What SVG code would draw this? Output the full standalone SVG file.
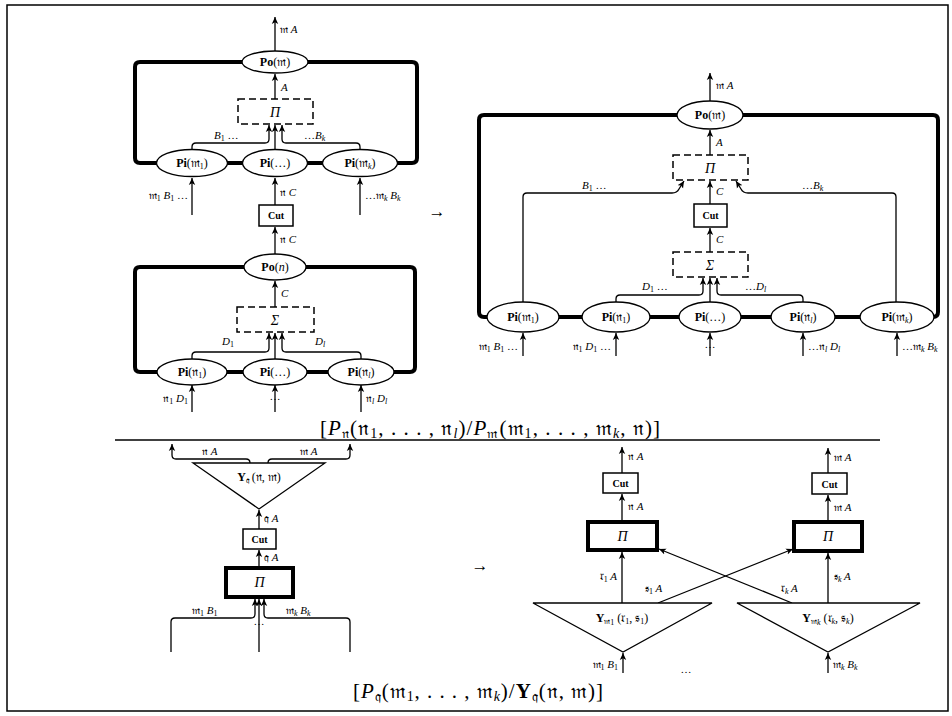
<svg xmlns="http://www.w3.org/2000/svg" width="952" height="716" viewBox="0 0 952 716">
<style>
text{font-family:"Liberation Serif","DejaVu Serif",serif;font-size:11px;fill:#000}
.c{text-anchor:middle}
.e{text-anchor:end}
.i{font-style:italic}
.b{font-weight:bold}
.s{font-size:8px}
.nl{font-size:12px}
.yl{font-size:12px}
.sym{font-size:14px}
.arw{font-size:17px}
.cut{font-size:10px;font-weight:bold}
.big{font-size:21px}
.bs{font-size:14px}
.ln{fill:none;stroke:#000;stroke-width:1.3}
.ar{fill:none;stroke:#000;stroke-width:1.3;marker-end:url(#ah)}
.thick{fill:none;stroke:#000;stroke-width:4;stroke-linejoin:round}
.dash{fill:none;stroke:#000;stroke-width:1.5;stroke-dasharray:7 4}
.nd{fill:#fff;stroke:#000;stroke-width:1.3}
.box{fill:#fff;stroke:#000;stroke-width:1.5}
.tbox{fill:#fff;stroke:#000;stroke-width:4}
</style>
<defs>
<marker id="ah" markerWidth="8" markerHeight="8" refX="7" refY="4" orient="auto" markerUnits="userSpaceOnUse">
<path d="M0,0.8 L7,4 L0,7.2 L1.8,4 z" fill="#000"/>
</marker>
</defs>
<rect x="7" y="5" width="941" height="706" fill="none" stroke="#000" stroke-width="1.5"/>

<g id="frames">
<path class="thick" d="M243,62 H140 Q135,62 135,67 V158 Q135,163 140,163 H412 Q417,163 417,158 V67 Q417,62 412,62 H307"/>
<path class="thick" d="M244,267 H140 Q135,267 135,272 V367 Q135,372 140,372 H410 Q415,372 415,367 V272 Q415,267 410,267 H306"/>
<path class="thick" d="M677,115 H484 Q479,115 479,120 V312 Q479,317 484,317 H933 Q938,317 938,312 V120 Q938,115 933,115 H743"/>
</g>

<g id="connectors">
<path class="ar" d="M275,51 V17"/>
<path class="ar" d="M275,99 V74"/>
<path class="ar" d="M192,150 V147 Q192,143 196,143 H265 Q269,143 269,139 V125"/>
<path class="ar" d="M275,150 V125"/>
<path class="ar" d="M360,150 V147 Q360,143 356,143 H286 Q282,143 282,139 V125"/>
<path class="ar" d="M192,215 V178"/>
<path class="ar" d="M275,205 V178"/>
<path class="ar" d="M360,215 V178"/>
<path class="ar" d="M275,254 V227"/>
<path class="ar" d="M275,307 V281"/>
<path class="ar" d="M192,359 V356 Q192,352 196,352 H265 Q269,352 269,348 V333"/>
<path class="ar" d="M275,359 V333"/>
<path class="ar" d="M361,359 V356 Q361,352 357,352 H286 Q282,352 282,348 V333"/>
<path class="ar" d="M192,412 V385"/>
<path class="ar" d="M275,412 V385"/>
<path class="ar" d="M361,412 V385"/>
<path class="ar" d="M710,101 V73"/>
<path class="ar" d="M710,155 V130"/>
<path class="ar" d="M710,204 V181"/>
<path class="ar" d="M710,252 V228"/>
<path class="ar" d="M710,302 V278"/>
<path class="ar" d="M616,302 V299 Q616,295 620,295 H699 Q703,295 703,291 V278"/>
<path class="ar" d="M803,302 V299 Q803,295 799,295 H721 Q717,295 717,291 V278"/>
<path class="ar" d="M523,302 V197 Q523,193 527,193 H672 Q677,193 679,189 L684,181"/>
<path class="ar" d="M896,302 V197 Q896,193 892,193 H748 Q743,193 741,189 L736,181"/>
<path class="ar" d="M523,356 V333"/>
<path class="ar" d="M616,356 V333"/>
<path class="ar" d="M710,356 V333"/>
<path class="ar" d="M803,356 V333"/>
<path class="ar" d="M897,356 V333"/>
<path class="ar" d="M250,463 Q250,459 246,459 H176 Q172,459 172,455 V444"/>
<path class="ar" d="M268,463 Q268,459 272,459 H346 Q350,459 350,455 V444"/>
<path class="ar" d="M259,529 V510"/>
<path class="ar" d="M259,568 V550"/>
<path class="ar" d="M171,652 V622 Q171,618 175,618 H251 Q255,618 255,614 V599"/>
<path class="ar" d="M259,652 V599"/>
<path class="ar" d="M350,652 V622 Q350,618 346,618 H268 Q264,618 264,614 V599"/>
<path class="ar" d="M622,473 V447"/>
<path class="ar" d="M622,522 V494"/>
<path class="ar" d="M622,603 V552"/>
<path class="ar" d="M623,673 V653"/>
<path class="ar" d="M658,603 L793,549"/>
<path class="ar" d="M792,603 L659,549"/>
<path class="ar" d="M828,473 V448"/>
<path class="ar" d="M828,522 V495"/>
<path class="ar" d="M828,603 V553"/>
<path class="ar" d="M828,673 V653"/>
<line class="ln" x1="115" y1="440" x2="880" y2="440" stroke-width="1.5"/>
</g>

<g id="po_m_L"><ellipse class="nd" cx="275" cy="62" rx="33" ry="11"/><text class="c nl" x="275" y="66"><tspan class="b">Po</tspan>(𝔪)</text></g>
<g id="pi_box_L"><rect class="dash" x="238" y="99" width="75" height="25"/><text class="c i sym" x="275" y="117">Π</text></g>
<g id="pi_m1_L"><ellipse class="nd" cx="192" cy="163" rx="35.5" ry="13.5"/><text class="c nl" x="192" y="167"><tspan class="b">Pi</tspan>(𝔪<tspan class="s" dy="2">1</tspan><tspan dy="-2">)</tspan></text></g>
<g id="pi_dots_L"><ellipse class="nd" cx="275" cy="163" rx="32.5" ry="13.5"/><text class="c nl" x="275" y="167"><tspan class="b">Pi</tspan>(…)</text></g>
<g id="pi_mk_L"><ellipse class="nd" cx="360" cy="163" rx="37.5" ry="13.5"/><text class="c nl" x="360" y="167"><tspan class="b">Pi</tspan>(𝔪<tspan class="s i" dy="2">k</tspan><tspan dy="-2">)</tspan></text></g>
<g id="cut_L"><rect class="box" x="259" y="205" width="34" height="21"/><text class="c cut" x="276" y="219">Cut</text></g>
<g id="po_n_L"><ellipse class="nd" cx="275" cy="267" rx="31" ry="13"/><text class="c nl" x="275" y="271"><tspan class="b">Po</tspan>(<tspan class="i">n</tspan>)</text></g>
<g id="sigma_L"><rect class="dash" x="237" y="307" width="77" height="25"/><text class="c i sym" x="275" y="325">Σ</text></g>
<g id="pi_n1_L"><ellipse class="nd" cx="192" cy="372" rx="35" ry="13"/><text class="c nl" x="192" y="376"><tspan class="b">Pi</tspan>(𝔫<tspan class="s" dy="2">1</tspan><tspan dy="-2">)</tspan></text></g>
<g id="pi_dots2_L"><ellipse class="nd" cx="275" cy="372" rx="32" ry="13"/><text class="c nl" x="275" y="376"><tspan class="b">Pi</tspan>(…)</text></g>
<g id="pi_nl_L"><ellipse class="nd" cx="361" cy="372" rx="33" ry="13"/><text class="c nl" x="361" y="376"><tspan class="b">Pi</tspan>(𝔫<tspan class="s i" dy="2">l</tspan><tspan dy="-2">)</tspan></text></g>

<g id="labels_L">
<text x="280" y="33">𝔪 <tspan class="i">A</tspan></text>
<text class="i" x="281" y="91">A</text>
<text x="214" y="139"><tspan class="i">B</tspan><tspan class="s" dy="2">1</tspan><tspan dy="-2"> …</tspan></text>
<text x="304" y="139">…<tspan class="i">B</tspan><tspan class="s i" dy="2">k</tspan></text>
<text class="e" x="188" y="199">𝔪<tspan class="s" dy="2">1</tspan><tspan class="i" dy="-2"> B</tspan><tspan class="s" dy="2">1</tspan><tspan dy="-2"> …</tspan></text>
<text x="280" y="196">𝔫 <tspan class="i">C</tspan></text>
<text x="365" y="199">…𝔪<tspan class="s i" dy="2">k</tspan><tspan class="i" dy="-2"> B</tspan><tspan class="s i" dy="2">k</tspan></text>
<text x="280" y="243">𝔫 <tspan class="i">C</tspan></text>
<text class="i" x="281" y="297">C</text>
<text x="222" y="345"><tspan class="i">D</tspan><tspan class="s" dy="2">1</tspan></text>
<text x="315" y="345"><tspan class="i">D</tspan><tspan class="s i" dy="2">l</tspan></text>
<text class="e" x="188" y="402">𝔫<tspan class="s" dy="2">1</tspan><tspan class="i" dy="-2"> D</tspan><tspan class="s" dy="2">1</tspan></text>
<text class="c" x="275" y="400">…</text>
<text x="366" y="402">𝔫<tspan class="s i" dy="2">l</tspan><tspan class="i" dy="-2"> D</tspan><tspan class="s i" dy="2">l</tspan></text>
<text class="c arw" x="437" y="217">→</text>
</g>

<g id="po_m_R"><ellipse class="nd" cx="710" cy="115" rx="33" ry="14"/><text class="c nl" x="710" y="119"><tspan class="b">Po</tspan>(𝔪)</text></g>
<g id="pi_box_R"><rect class="dash" x="673" y="155" width="75" height="25"/><text class="c i sym" x="710" y="173">Π</text></g>
<g id="cut_R"><rect class="box" x="694" y="204" width="33" height="23"/><text class="c cut" x="710.5" y="219">Cut</text></g>
<g id="sigma_R"><rect class="dash" x="673" y="252" width="75" height="25"/><text class="c i sym" x="710" y="270">Σ</text></g>
<g id="pi_m1_R"><ellipse class="nd" cx="523" cy="317" rx="36" ry="15"/><text class="c nl" x="523" y="321"><tspan class="b">Pi</tspan>(𝔪<tspan class="s" dy="2">1</tspan><tspan dy="-2">)</tspan></text></g>
<g id="pi_n1_R"><ellipse class="nd" cx="616" cy="317" rx="34" ry="15"/><text class="c nl" x="616" y="321"><tspan class="b">Pi</tspan>(𝔫<tspan class="s" dy="2">1</tspan><tspan dy="-2">)</tspan></text></g>
<g id="pi_dots_R"><ellipse class="nd" cx="710" cy="317" rx="31" ry="15"/><text class="c nl" x="710" y="321"><tspan class="b">Pi</tspan>(…)</text></g>
<g id="pi_nl_R"><ellipse class="nd" cx="803" cy="317" rx="32" ry="15"/><text class="c nl" x="803" y="321"><tspan class="b">Pi</tspan>(𝔫<tspan class="s i" dy="2">l</tspan><tspan dy="-2">)</tspan></text></g>
<g id="pi_mk_R"><ellipse class="nd" cx="897" cy="317" rx="37" ry="15"/><text class="c nl" x="897" y="321"><tspan class="b">Pi</tspan>(𝔪<tspan class="s i" dy="2">k</tspan><tspan dy="-2">)</tspan></text></g>

<g id="labels_R">
<text x="716" y="89">𝔪 <tspan class="i">A</tspan></text>
<text class="i" x="716" y="146">A</text>
<text class="i" x="716" y="195">C</text>
<text class="i" x="716" y="243">C</text>
<text x="582" y="189"><tspan class="i">B</tspan><tspan class="s" dy="2">1</tspan><tspan dy="-2"> …</tspan></text>
<text x="802" y="189">…<tspan class="i">B</tspan><tspan class="s i" dy="2">k</tspan></text>
<text x="642" y="290"><tspan class="i">D</tspan><tspan class="s" dy="2">1</tspan><tspan dy="-2"> …</tspan></text>
<text x="745" y="290">…<tspan class="i">D</tspan><tspan class="s i" dy="2">l</tspan></text>
<text class="e" x="518" y="350">𝔪<tspan class="s" dy="2">1</tspan><tspan class="i" dy="-2"> B</tspan><tspan class="s" dy="2">1</tspan><tspan dy="-2"> …</tspan></text>
<text class="e" x="611" y="350">𝔫<tspan class="s" dy="2">1</tspan><tspan class="i" dy="-2"> D</tspan><tspan class="s" dy="2">1</tspan><tspan dy="-2"> …</tspan></text>
<text class="c" x="710" y="348">…</text>
<text x="808" y="350">…𝔫<tspan class="s i" dy="2">l</tspan><tspan class="i" dy="-2"> D</tspan><tspan class="s i" dy="2">l</tspan></text>
<text x="902" y="350">…𝔪<tspan class="s i" dy="2">k</tspan><tspan class="i" dy="-2"> B</tspan><tspan class="s i" dy="2">k</tspan></text>
</g>

<text class="c big" x="490" y="435" textLength="340" lengthAdjust="spacing">[<tspan class="i">P</tspan><tspan class="bs" dy="3">𝔫</tspan><tspan dy="-3">(𝔫</tspan><tspan class="bs" dy="3">1</tspan><tspan dy="-3">, . . . , 𝔫</tspan><tspan class="bs i" dy="3">l</tspan><tspan dy="-3">)/</tspan><tspan class="i">P</tspan><tspan class="bs" dy="3">𝔪</tspan><tspan dy="-3">(𝔪</tspan><tspan class="bs" dy="3">1</tspan><tspan dy="-3">, . . . , 𝔪</tspan><tspan class="bs i" dy="3">k</tspan><tspan dy="-3">, 𝔫)]</tspan></text>

<g id="y_q"><path class="nd" d="M193,463 H325 L259,509 Z"/><text class="c yl" x="259" y="481"><tspan class="b">Y</tspan><tspan class="s" dy="2">𝔮</tspan><tspan dy="-2"> (𝔫, 𝔪)</tspan></text></g>
<g id="cut_BL"><rect class="box" x="243" y="529" width="33" height="20"/><text class="c cut" x="259.5" y="543">Cut</text></g>
<g id="pi_BL"><rect class="tbox" x="226" y="568" width="67" height="29"/><text class="c i sym" x="259.5" y="587">Π</text></g>
<g id="labels_BL">
<text x="202" y="455">𝔫 <tspan class="i">A</tspan></text>
<text x="300" y="455">𝔪 <tspan class="i">A</tspan></text>
<text x="264" y="522">𝔮 <tspan class="i">A</tspan></text>
<text x="264" y="561">𝔮 <tspan class="i">A</tspan></text>
<text x="192" y="614">𝔪<tspan class="s" dy="2">1</tspan><tspan class="i" dy="-2"> B</tspan><tspan class="s" dy="2">1</tspan></text>
<text x="286" y="614">𝔪<tspan class="s i" dy="2">k</tspan><tspan class="i" dy="-2"> B</tspan><tspan class="s i" dy="2">k</tspan></text>
<text class="c" x="259" y="625">…</text>
<text class="c arw" x="480" y="571">→</text>
</g>

<g id="cut_BR1"><rect class="box" x="603" y="473" width="35" height="20"/><text class="c cut" x="620.5" y="487">Cut</text></g>
<g id="pi_BR1"><rect class="tbox" x="588" y="522" width="69" height="28"/><text class="c i sym" x="622.5" y="541">Π</text></g>
<g id="y_m1"><path class="nd" d="M533,603 H712 L623,652 Z"/><text class="c yl" x="622" y="622"><tspan class="b">Y</tspan><tspan class="s" dy="2">𝔪</tspan><tspan class="s" dy="1">1</tspan><tspan dy="-3"> (𝔯</tspan><tspan class="s" dy="2">1</tspan><tspan dy="-2">, 𝔰</tspan><tspan class="s" dy="2">1</tspan><tspan dy="-2">)</tspan></text></g>
<g id="cut_BR2"><rect class="box" x="812" y="473" width="35" height="21"/><text class="c cut" x="829.5" y="488">Cut</text></g>
<g id="pi_BR2"><rect class="tbox" x="794" y="522" width="68" height="29"/><text class="c i sym" x="828" y="541">Π</text></g>
<g id="y_mk"><path class="nd" d="M737,603 H920 L828,652 Z"/><text class="c yl" x="828" y="622"><tspan class="b">Y</tspan><tspan class="s" dy="2">𝔪</tspan><tspan class="s i" dy="1">k</tspan><tspan dy="-3"> (𝔯</tspan><tspan class="s i" dy="2">k</tspan><tspan dy="-2">, 𝔰</tspan><tspan class="s i" dy="2">k</tspan><tspan dy="-2">)</tspan></text></g>
<g id="labels_BR">
<text x="628" y="460">𝔫 <tspan class="i">A</tspan></text>
<text x="628" y="510">𝔫 <tspan class="i">A</tspan></text>
<text class="e" x="617" y="580">𝔯<tspan class="s" dy="2">1</tspan><tspan class="i" dy="-2"> A</tspan></text>
<text x="645" y="592">𝔰<tspan class="s" dy="2">1</tspan><tspan class="i" dy="-2"> A</tspan></text>
<text class="e" x="618" y="668">𝔪<tspan class="s" dy="2">1</tspan><tspan class="i" dy="-2"> B</tspan><tspan class="s" dy="2">1</tspan></text>
<text x="834" y="461">𝔪 <tspan class="i">A</tspan></text>
<text x="834" y="511">𝔪 <tspan class="i">A</tspan></text>
<text x="834" y="580">𝔰<tspan class="s i" dy="2">k</tspan><tspan class="i" dy="-2"> A</tspan></text>
<text x="781" y="592">𝔯<tspan class="s i" dy="2">k</tspan><tspan class="i" dy="-2"> A</tspan></text>
<text x="833" y="668">𝔪<tspan class="s i" dy="2">k</tspan><tspan class="i" dy="-2"> B</tspan><tspan class="s i" dy="2">k</tspan></text>
<text class="c" x="686" y="673">…</text>
</g>

<text class="c big" x="478" y="698" textLength="250" lengthAdjust="spacing">[<tspan class="i">P</tspan><tspan class="bs" dy="3">𝔮</tspan><tspan dy="-3">(𝔪</tspan><tspan class="bs" dy="3">1</tspan><tspan dy="-3">, . . . , 𝔪</tspan><tspan class="bs i" dy="3">k</tspan><tspan dy="-3">)/</tspan><tspan class="b">Y</tspan><tspan class="bs" dy="3">𝔮</tspan><tspan dy="-3">(𝔫, 𝔪)]</tspan></text>
</svg>
